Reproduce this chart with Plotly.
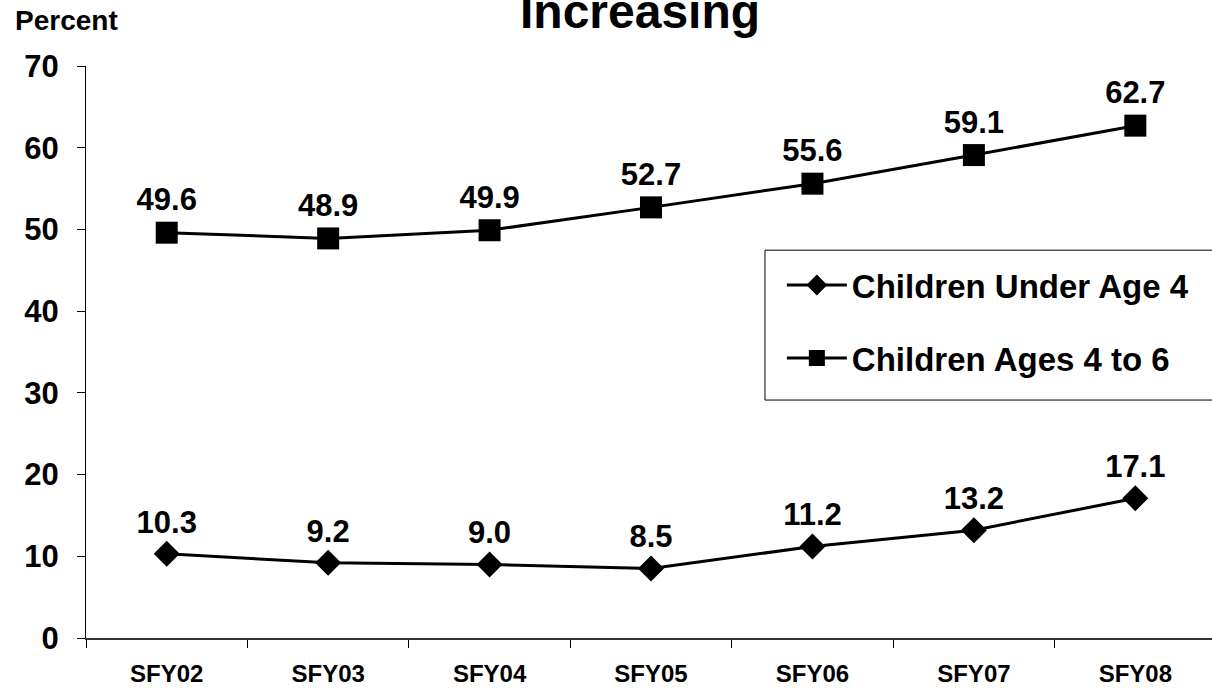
import plotly.graph_objects as go

categories = ["SFY02", "SFY03", "SFY04", "SFY05", "SFY06", "SFY07", "SFY08"]
under4 = [10.3, 9.2, 9.0, 8.5, 11.2, 13.2, 17.1]
ages4to6 = [49.6, 48.9, 49.9, 52.7, 55.6, 59.1, 62.7]
y_ticks = [0, 10, 20, 30, 40, 50, 60, 70]

FONT = "Liberation Sans, Arial, sans-serif"

fig = go.Figure()
fig.add_trace(go.Scatter(
    x=categories, y=under4, name="Children Under Age 4",
    mode="lines+markers+text",
    text=[f"{v:.1f}" for v in under4], textposition="top center",
    textfont=dict(family=FONT, size=31, color="black", weight="bold"),
    line=dict(color="black", width=3),
    marker=dict(symbol="diamond", size=20, color="black"),
    legendgroup="a", cliponaxis=False,
))
fig.add_trace(go.Scatter(
    x=categories, y=ages4to6, name="Children Ages 4 to 6",
    mode="lines+markers+text",
    text=[f"{v:.1f}" for v in ages4to6], textposition="top center",
    textfont=dict(family=FONT, size=31, color="black", weight="bold"),
    line=dict(color="black", width=3),
    marker=dict(symbol="square", size=22, color="black"),
    legendgroup="b", cliponaxis=False,
))

# legend frame: open on the right, running off the edge as in the reference
FX0, FX1, FY0, FY1 = 0.603, 1.05, 0.416, 0.678
frame = dict(type="line", xref="paper", yref="paper",
             line=dict(color="black", width=1), layer="below")

fig.update_layout(
    width=1212, height=688,
    margin=dict(l=86, r=0, t=66, b=50, autoexpand=False),
    paper_bgcolor="white", plot_bgcolor="white",
    font=dict(family=FONT, color="black"),
    showlegend=True,
    legend=dict(
        x=0.618, y=0.666, xanchor="left", yanchor="top",
        borderwidth=0, bordercolor="rgba(0,0,0,0)", bgcolor="rgba(0,0,0,0)",
        font=dict(family=FONT, size=33, color="black", weight="bold"),
        tracegroupgap=27, itemwidth=60,
    ),
    shapes=[
        dict(frame, x0=FX0, x1=FX1, y0=FY1, y1=FY1),
        dict(frame, x0=FX0, x1=FX1, y0=FY0, y1=FY0),
        dict(frame, x0=FX0, x1=FX0, y0=FY0, y1=FY1),
    ],
    xaxis=dict(
        type="category", range=[-0.5, 6.475],
        showline=True, linecolor="#333", linewidth=2,
        ticks="outside", ticklen=8, tickcolor="black", tickson="boundaries",
        tickfont=dict(family=FONT, size=24, color="black", weight="bold"),
        ticklabelstandoff=13,
        showgrid=False, zeroline=False,
    ),
    yaxis=dict(
        range=[0, 70], tickvals=y_ticks,
        showline=True, linecolor="black", linewidth=1,
        ticks="outside", ticklen=8, tickcolor="black",
        tickfont=dict(family=FONT, size=31, color="black", weight="bold"),
        ticklabelstandoff=12,
        showgrid=False, zeroline=False,
    ),
    annotations=[
        dict(text="<b>Increasing</b>", xref="paper", yref="paper",
             x=0.492, y=1.0, yshift=55, xanchor="center", yanchor="middle",
             showarrow=False, font=dict(family=FONT, size=48, color="black")),
        dict(text="<b>Percent</b>", xref="paper", yref="paper",
             x=0, xshift=-73, y=1.0, yshift=46, xanchor="left", yanchor="middle",
             showarrow=False, font=dict(family=FONT, size=28, color="black")),
    ],
)

fig.write_html(
    "out.html",
    config={"displayModeBar": False},
    post_script=(
        "document.body.style.margin='0';"
        "document.body.style.overflow='hidden';"
        "document.documentElement.style.overflow='hidden';"
    ),
)
